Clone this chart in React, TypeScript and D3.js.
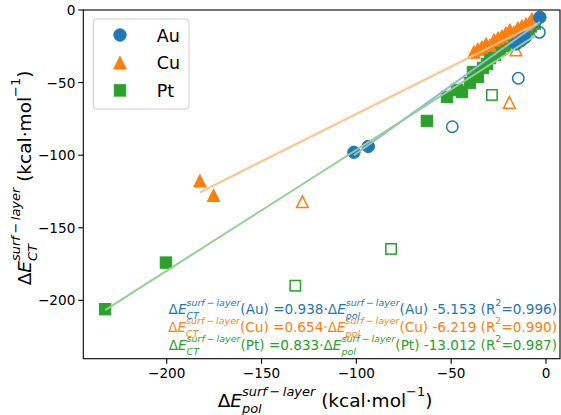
import React from 'react';
import * as d3 from 'd3';

// ---------- data ----------
const METALS = ['Au', 'Cu', 'Pt'];
const COLORS = ['#1f77b4', '#ff7f0e', '#2ca02c'];
const LINE_COLORS = ['#8fbbd9', '#ffbf86', '#95cf95'];
const SLOPES = [0.938, 0.654, 0.833];
const INTERCEPTS = [-5.153, -6.219, -13.012];
const R2 = ['0.996', '0.990', '0.987'];
const FIT_X_RANGES: [number, number][] = [[-101.3, -3.2], [-182.5, -5.0], [-232.5, -5.8]];

const AU_SOLID: [number, number][] = [
  [-101.3, -98.0], [-93.7, -94.0], [-15.8, -23.4], [-13.2, -21.2], [-11.1, -19.0],
  [-3.2, -5.0],
];
const AU_OPEN: [number, number][] = [[-3.5, -15.4], [-14.6, -47.0], [-49.4, -80.4]];

const CU_SOLID: [number, number][] = [
  [-182.5, -117.6], [-175.3, -127.6], [-38.0, -28.9], [-35.9, -26.9], [-33.8, -25.5],
  [-31.6, -23.4], [-29.5, -24.1], [-27.4, -20.7], [-25.3, -19.3], [-23.2, -17.9],
  [-21.1, -15.8], [-19.0, -13.8], [-16.9, -15.2], [-14.8, -12.4], [-12.7, -11.0],
  [-10.5, -9.6], [-8.4, -8.3], [-7.4, -6.2],
];
const CU_OPEN: [number, number][] = [[-128.5, -132.0], [-19.3, -63.6], [-15.8, -27.5]];

const PT_SOLID: [number, number][] = [
  [-232.5, -206.1], [-200.4, -174.0], [-62.8, -76.4], [-52.2, -59.9], [-46.9, -55.1],
  [-44.3, -56.5], [-40.1, -50.3], [-38.5, -42.7], [-35.9, -46.1], [-33.2, -39.9],
  [-31.1, -37.2], [-29.5, -33.1], [-26.9, -31.0], [-24.3, -27.5], [-21.6, -24.8],
  [-19.0, -22.0], [-16.9, -20.3], [-14.2, -18.9], [-12.1, -16.8], [-10.0, -13.4],
  [-7.9, -11.3], [-5.8, -9.3],
];
const PT_OPEN: [number, number][] = [[-132.2, -189.9], [-81.7, -164.6], [-28.5, -58.5]];

const X_TICKS = [-200, -150, -100, -50, 0];
const Y_TICKS = [0, -50, -100, -150, -200];
const X_DOMAIN: [number, number] = [-244, 7.4];
const Y_DOMAIN: [number, number] = [-240.2, 0];

// ---------- layout ----------
const W = 561, H = 415;
const L = 83.3, R = 560, T = 10, B = 358.7;
const FONT = '"DejaVu Sans", sans-serif';
const TICK_FS = 13.6;
const LABEL_FS = 18.5;
const LEGEND_FS = 17.5;
const ANN_FS = 13.6;

let ctx: CanvasRenderingContext2D | null = null;
function measure(t: string, size: number, italic: boolean) {
  if (!ctx) ctx = document.createElement('canvas').getContext('2d');
  ctx!.font = `${italic ? 'italic ' : ''}${size}px "DejaVu Sans"`;
  return ctx!.measureText(t).width;
}

type Part = { t: string; it?: boolean } | { sup: string; sub?: string; supUp?: boolean };
type Item = { t: string; x: number; dy: number; size: number; it: boolean };

function layout(parts: Part[], size: number) {
  const items: Item[] = [];
  let x = 0;
  for (const p of parts) {
    if ('t' in p) {
      items.push({ t: p.t, x, dy: 0, size, it: !!p.it });
      x += measure(p.t, size, !!p.it);
    } else {
      const s = size * 0.7;
      const it = !p.supUp;
      const w1 = measure(p.sup, s, it);
      items.push({ t: p.sup, x, dy: -0.62 * size, size: s, it });
      let w2 = 0;
      if (p.sub) {
        w2 = measure(p.sub, s, true);
        items.push({ t: p.sub, x, dy: 0.33 * size, size: s, it: true });
      }
      x += Math.max(w1, w2);
    }
  }
  return { items, width: x };
}

function MathText({ parts, size, x, y, anchor, color, rotate }: {
  parts: Part[]; size: number; x: number; y: number; anchor: 'start' | 'middle' | 'end'; color: string; rotate?: number;
}) {
  const { items, width } = layout(parts, size);
  const x0 = anchor === 'start' ? 0 : anchor === 'middle' ? -width / 2 : -width;
  return (
    <g transform={`translate(${x},${y})${rotate ? ` rotate(${rotate})` : ''}`} fill={color} fontFamily={FONT}>
      {items.map((it, i) => (
        <text key={i} x={x0 + it.x} y={it.dy} fontSize={it.size} fontStyle={it.it ? 'italic' : 'normal'}
          style={{ whiteSpace: 'pre' }}>
          {it.t}
        </text>
      ))}
    </g>
  );
}

const SUP = 'surf\u2009\u2212\u2009layer';

function Marker({ kind, cx, cy, color, open }: { kind: number; cx: number; cy: number; color: string; open?: boolean }) {
  const fill = open ? 'none' : color;
  const sw = open ? 1.5 : 1;
  if (kind === 0) return <circle cx={cx} cy={cy} r={open ? 5.7 : 6.2} fill={fill} stroke={color} strokeWidth={sw} />;
  if (kind === 1) {
    const h = open ? 5.8 : 6.3;
    return <path d={`M${cx},${cy - h}L${cx + h},${cy + h}L${cx - h},${cy + h}Z`} fill={fill} stroke={color} strokeWidth={sw} strokeLinejoin="miter" />;
  }
  const h = open ? 5.2 : 5.7;
  return <rect x={cx - h} y={cy - h} width={2 * h} height={2 * h} fill={fill} stroke={color} strokeWidth={sw} />;
}

export default function App() {
  const x = d3.scaleLinear().domain(X_DOMAIN).range([L, R]);
  const y = d3.scaleLinear().domain(Y_DOMAIN).range([B, T]);
  const solids = [AU_SOLID, CU_SOLID, PT_SOLID];
  const opens = [AU_OPEN, CU_OPEN, PT_OPEN];
  const drawOrder = [2, 1, 0];
  const minus = (v: number) => (v < 0 ? '\u2212' + Math.abs(v) : String(v));

  return (
    <svg width={W} height={H} style={{ position: 'absolute', left: 0, top: 0, background: '#fff' }}>
      <rect width={W} height={H} fill="#fff" />
      {/* markers */}
      {drawOrder.map((k) => (
        <g key={'m' + k}>
          {opens[k].map((p, i) => <Marker key={'o' + i} kind={k} cx={x(p[0])} cy={y(p[1])} color={COLORS[k]} open />)}
          {solids[k].map((p, i) => <Marker key={'s' + i} kind={k} cx={x(p[0])} cy={y(p[1])} color={COLORS[k]} />)}
        </g>
      ))}
      {/* fit lines */}
      {[0, 1, 2].map((k) => {
        const pts = FIT_X_RANGES[k].map((v) => [v, SLOPES[k] * v + INTERCEPTS[k]]);
        const d = d3.line().x((p) => x(p[0])).y((p) => y(p[1]))(pts as [number, number][]);
        return <path key={'l' + k} d={d || ''} fill="none" stroke={LINE_COLORS[k]} strokeWidth={2} />;
      })}
      {/* spines */}
      <rect x={L} y={T} width={R - L} height={B - T} fill="none" stroke="#000" strokeWidth={1.1} />
      {/* ticks */}
      {X_TICKS.map((t) => (
        <g key={'xt' + t}>
          <line x1={x(t)} x2={x(t)} y1={B} y2={B + 5} stroke="#000" strokeWidth={1.1} />
          <text x={x(t)} y={B + 19} textAnchor="middle" fontFamily={FONT} fontSize={TICK_FS}>{minus(t)}</text>
        </g>
      ))}
      {Y_TICKS.map((t) => (
        <g key={'yt' + t}>
          <line x1={L - 5} x2={L} y1={y(t)} y2={y(t)} stroke="#000" strokeWidth={1.1} />
          <text x={L - 8} y={y(t) + 5} textAnchor="end" fontFamily={FONT} fontSize={TICK_FS}>{minus(t)}</text>
        </g>
      ))}
      {/* axis labels */}
      <MathText
        parts={[{ t: '\u0394' }, { t: 'E', it: true }, { sup: SUP, sub: 'pol' }, { t: ' (kcal\u00b7mol' }, { sup: '\u22121', supUp: true }, { t: ')' }]}
        size={LABEL_FS} x={325} y={407} anchor="middle" color="#000" />
      <MathText
        parts={[{ t: '\u0394' }, { t: 'E', it: true }, { sup: SUP, sub: 'CT' }, { t: ' (kcal\u00b7mol' }, { sup: '\u22121', supUp: true }, { t: ')' }]}
        size={LABEL_FS} x={31} y={178} anchor="middle" color="#000" rotate={-90} />
      {/* legend */}
      <rect x={93.3} y={19} width={95.7} height={90} rx={3} fill="#fff" fillOpacity={0.8} stroke="#cccccc" strokeWidth={1} />
      {METALS.map((m, k) => (
        <g key={'lg' + m}>
          <Marker kind={k} cx={120} cy={35 + k * 27.7} color={COLORS[k]} />
          <text x={156.7} y={41.5 + k * 27.7} fontFamily={FONT} fontSize={LEGEND_FS}>{m}</text>
        </g>
      ))}
      {/* annotations */}
      {METALS.map((m, k) => (
        <MathText key={'an' + m}
          parts={[
            { t: '\u0394' }, { t: 'E', it: true }, { sup: SUP, sub: 'CT' },
            { t: `(${m}) =${SLOPES[k].toFixed(3)}\u00b7\u0394` }, { t: 'E', it: true }, { sup: SUP, sub: 'pol' },
            { t: `(${m}) ${INTERCEPTS[k].toFixed(3)} (R` }, { sup: '2', supUp: true }, { t: `=${R2[k]})` },
          ]}
          size={ANN_FS} x={557} y={314 + k * 18} anchor="end" color={COLORS[k]} />
      ))}
    </svg>
  );
}
